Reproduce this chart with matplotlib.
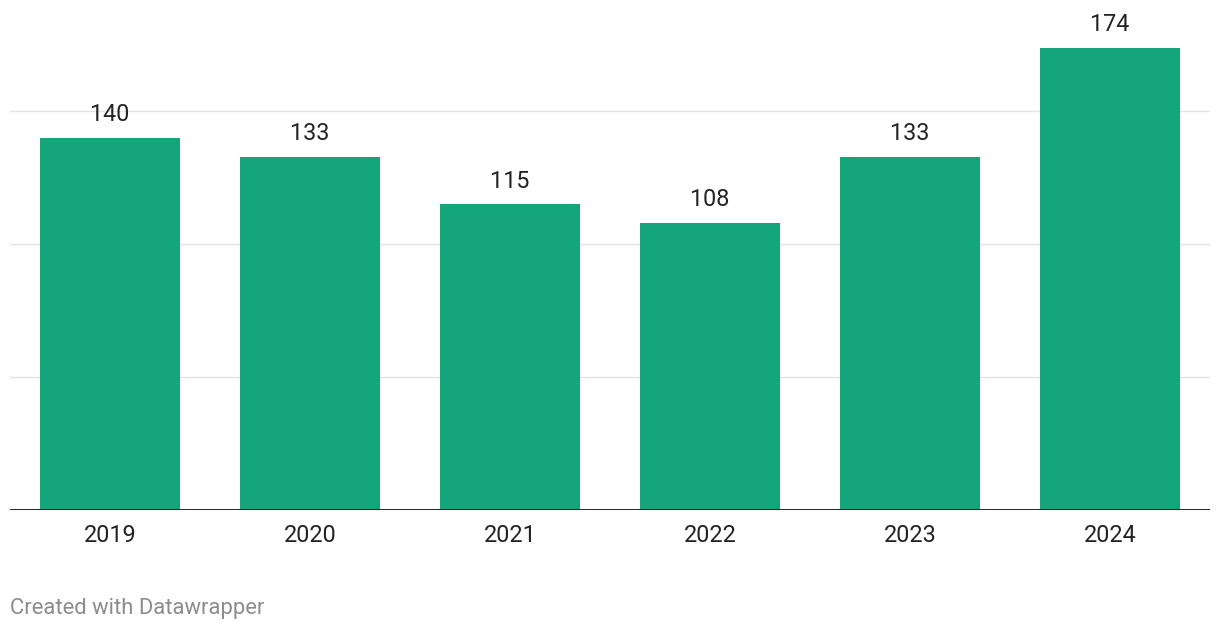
import matplotlib
matplotlib.use("Agg")
import matplotlib.pyplot as plt

years = ["2019", "2020", "2021", "2022", "2023", "2024"]
values = [140, 133, 115, 108, 133, 174]

plt.rcParams['font.family'] = ['Roboto', 'DejaVu Sans']

fig = plt.figure(figsize=(12.2, 6.3), dpi=100)
ax = fig.add_axes([10/1220, 120/630, 1200/1220, 504.8/630])

x = range(len(years))
ax.bar(x, values, width=0.7, color='#14a67a', zorder=2)
ax.set_xlim(-0.5, len(years) - 0.5)
ax.set_ylim(0, 190)

for yv in [50, 100, 150]:
    ax.axhline(yv, color='#e3e3e3', lw=1.0, zorder=1)
ax.axhline(0, color='#111111', lw=2.0, zorder=3)

for xi, v in zip(x, values):
    ax.annotate(str(v), (xi, v), xytext=(0, 8.5), textcoords='offset points',
                ha='center', va='bottom', fontsize=16.8, color='#222222')

ax.set_xticks(list(x))
ax.set_xticklabels(years, fontsize=16.8, color='#222222')
ax.tick_params(axis='x', length=0, pad=10)
ax.set_yticks([])
for s in ax.spines.values():
    s.set_visible(False)

fig.text(10/1220, 1 - 614/630, "Created with Datawrapper", fontsize=15.8,
         color='#8c8c8c', ha='left', va='baseline')

fig.savefig("out.png", dpi=100)
